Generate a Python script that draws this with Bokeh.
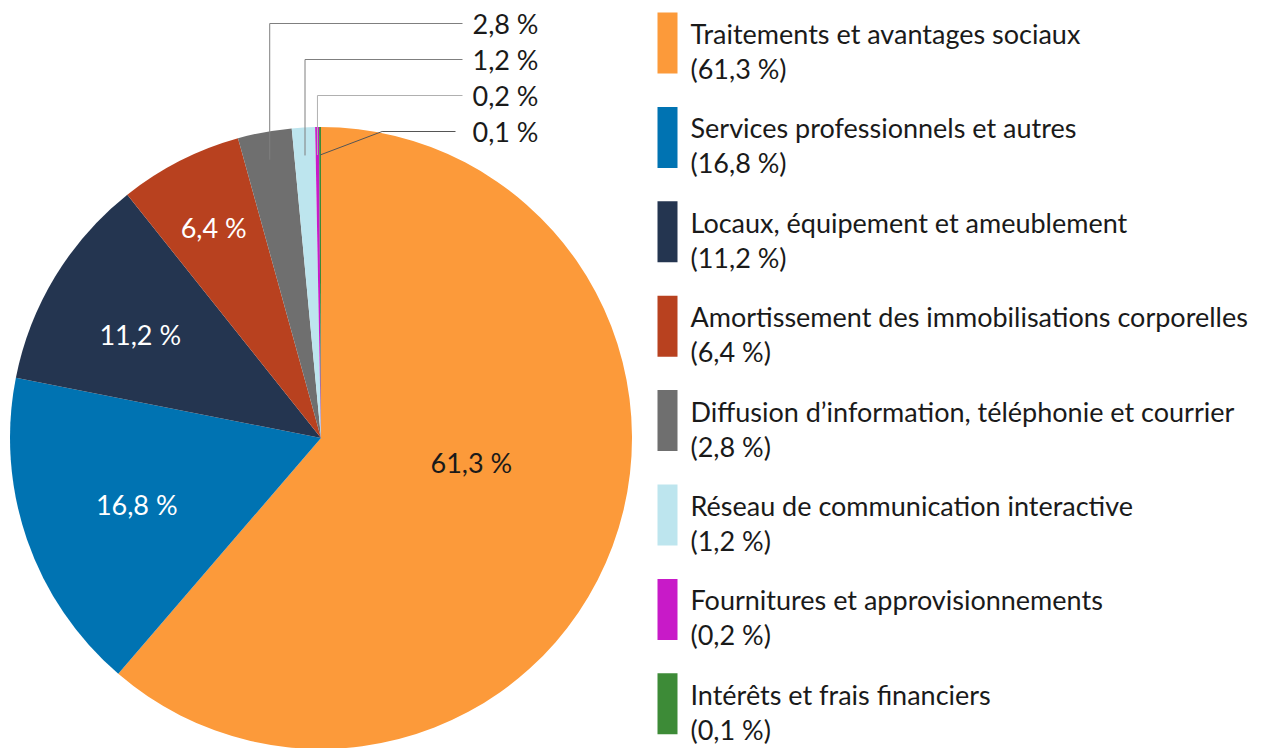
import numpy as np
from bokeh.plotting import figure
from bokeh.models import Range1d, ColumnDataSource
from bokeh.core.properties import value
from bokeh.embed import file_html
from bokeh.resources import INLINE

# ---- data ----
categories = [
    "Traitements et avantages sociaux",
    "Services professionnels et autres",
    "Locaux, équipement et ameublement",
    "Amortissement des immobilisations corporelles",
    "Diffusion d\u2019information, téléphonie et courrier",
    "Réseau de communication interactive",
    "Fournitures et approvisionnements",
    "Intérêts et frais financiers",
]
values = [61.3, 16.8, 11.2, 6.4, 2.8, 1.2, 0.2, 0.1]
pct_labels = ["61,3 %", "16,8 %", "11,2 %", "6,4 %", "2,8 %", "1,2 %", "0,2 %", "0,1 %"]
legend_pct = ["(61,3 %)", "(16,8 %)", "(11,2 %)", "(6,4 %)", "(2,8 %)", "(1,2 %)", "(0,2 %)", "(0,1 %)"]
colors = ["#FC9A3A", "#0073B2", "#243550", "#B8411F", "#6F6F6F", "#BDE5EE", "#C81AC8", "#3D8B37"]

# ---- layout ----
W, H = 1263, 748
FONT = value("Lato")
FS = "27px"
CX, CY = 320.5, H - 437.5
R = 311

def Y(pix):
    return H - pix

p = figure(width=W, height=H, x_range=Range1d(0, W), y_range=Range1d(0, H),
           x_axis_type=None, y_axis_type=None, toolbar_location=None,
           output_backend="svg", min_border=0)
p.grid.visible = False
p.outline_line_color = None
p.background_fill_color = "white"

vals = np.array(values, dtype=float)
frac = vals / vals.sum()
cum_after = np.cumsum(frac)
cum_before = cum_after - frac
# clockwise from 12 o'clock
start = np.pi / 2 - 2 * np.pi * cum_after
end = np.pi / 2 - 2 * np.pi * cum_before
mid = np.pi / 2 - 2 * np.pi * (cum_before + frac / 2)

src = ColumnDataSource(dict(start=start, end=end, color=colors))
p.wedge(x=CX, y=CY, radius=R, start_angle="start", end_angle="end",
        fill_color="color", line_color=None, source=src)

# inside labels (first four slices)
in_r = [0.49, 0.63, 0.67, 0.76]
in_nudge = np.radians([11.0, 0.8, 1.5, 0.0])
in_col = ["#1a1a1a", "white", "white", "white"]
for i in range(4):
    a = mid[i] + in_nudge[i]
    p.text(x=[CX + in_r[i] * R * np.cos(a)], y=[CY + in_r[i] * R * np.sin(a)],
           text=[pct_labels[i]], text_font=FONT, text_font_size=FS,
           text_color=in_col[i], text_align="center", text_baseline="middle")

# outside labels with leader lines (last four slices)
out_label_y = [23, 59, 95, 131]
label_x = 472
for k, i in enumerate(range(4, 8)):
    a = mid[i]
    ax = CX + 0.91 * R * np.cos(a)
    ay = CY + 0.91 * R * np.sin(a)
    ly = Y(out_label_y[k])
    if i < 7:
        xs = [ax, ax, label_x - 10]
        ys = [ay, ly, ly]
        lc = "#7f7f7f" if i != 6 else "#b0b0b0"
    else:
        xs = [ax, ax + 62, label_x - 17]
        ys = [ay, ly, ly]
        lc = "#555555"
    p.line(x=xs, y=ys, line_color=lc, line_width=1)
    p.text(x=[label_x], y=[ly], text=[pct_labels[i]], text_font=FONT,
           text_font_size=FS, text_color="#1a1a1a", text_align="left",
           text_baseline="middle")

# legend
leg_top0 = 12
leg_step = 94.4
sw_x0, sw_w, sw_h = 657, 20, 61
tx = 690
n = len(categories)
tops = np.array([leg_top0 + j * leg_step for j in range(n)])
p.quad(left=[sw_x0] * n, right=[sw_x0 + sw_w] * n,
       top=[Y(t) for t in tops], bottom=[Y(t + sw_h) for t in tops],
       fill_color=colors, line_color=None)
p.text(x=[tx] * n, y=[Y(t + 21) for t in tops], text=categories, text_font=FONT,
       text_font_size=FS, text_color="#1a1a1a", text_align="left", text_baseline="alphabetic")
p.text(x=[tx] * n, y=[Y(t + 56) for t in tops], text=legend_pct, text_font=FONT,
       text_font_size=FS, text_color="#1a1a1a", text_align="left", text_baseline="alphabetic")

open("out.html", "w").write(file_html(p, INLINE))
